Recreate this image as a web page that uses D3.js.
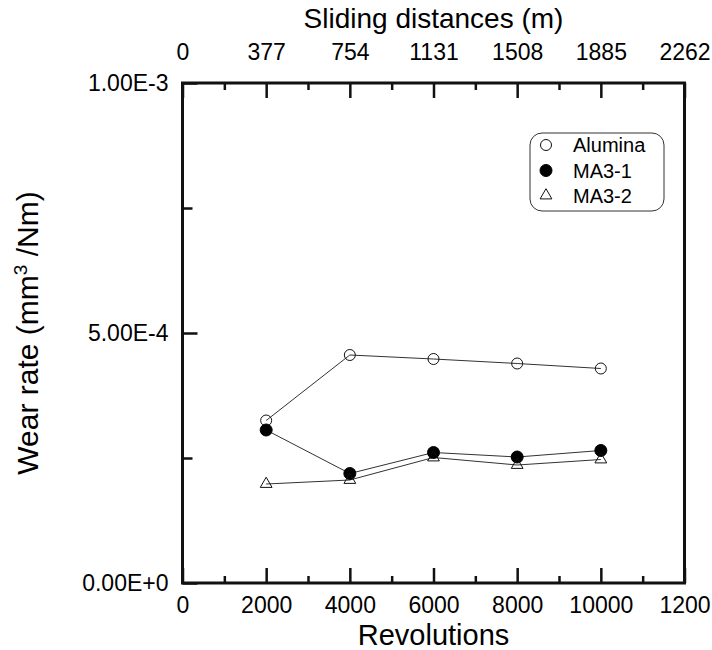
<!DOCTYPE html>
<html>
<head>
<meta charset="utf-8">
<script src="https://cdn.jsdelivr.net/npm/d3@7"></script>
<style>
  html, body { margin: 0; padding: 0; background: #fff; }
  svg { display: block; font-family: "Liberation Sans", Arial, Helvetica, sans-serif; }
</style>
</head>
<body>
<svg id="chart" width="712" height="650"></svg>
<script>
// ---- data ----
const revolutions = [2000, 4000, 6000, 8000, 10000];
const alumina = [3.25e-4, 4.56e-4, 4.48e-4, 4.39e-4, 4.29e-4];
const ma31    = [3.06e-4, 2.19e-4, 2.61e-4, 2.52e-4, 2.65e-4];
const ma32    = [1.98e-4, 2.06e-4, 2.51e-4, 2.36e-4, 2.47e-4];
const seriesNames = ["Alumina", "MA3-1", "MA3-2"];
const bottomTickValues = [0, 2000, 4000, 6000, 8000, 10000, 12000];
const bottomTickLabels = ["0", "2000", "4000", "6000", "8000", "10000", "1200"];
const topTickLabels = ["0", "377", "754", "1131", "1508", "1885", "2262"];
const minorXTicks = [1000, 3000, 5000, 7000, 9000, 11000];
const yTickValues = [0, 5e-4, 1e-3];
const yTickLabels = ["0.00E+0", "5.00E-4", "1.00E-3"];
const minorYTicks = [2.5e-4, 7.5e-4];

// ---- layout ----
const L = 182.5, R = 684.5, T = 83, B = 583;
const svg = d3.select("#chart");
const x = d3.scaleLinear().domain([0, 12000]).range([L, R]);
const y = d3.scaleLinear().domain([0, 1e-3]).range([B, T]);
const ink = "#111";

// series lines
const series = [
  {name: seriesNames[0], vals: alumina, sym: "open-circle"},
  {name: seriesNames[1], vals: ma31, sym: "filled-circle"},
  {name: seriesNames[2], vals: ma32, sym: "triangle"}
];
const line = d3.line().x(d => x(d[0])).y(d => y(d[1]));
series.forEach(s => {
  const pts = revolutions.map((r, i) => [r, s.vals[i]]);
  svg.append("path").attr("d", line(pts)).attr("fill", "none")
    .attr("stroke", "#333").attr("stroke-width", 1);
});

function drawSymbol(g, sym, cx, cy) {
  if (sym === "open-circle") {
    g.append("circle").attr("cx", cx).attr("cy", cy).attr("r", 5.5)
      .attr("fill", "none").attr("stroke", ink).attr("stroke-width", 1);
  } else if (sym === "filled-circle") {
    g.append("circle").attr("cx", cx).attr("cy", cy).attr("r", 6)
      .attr("fill", "#000").attr("stroke", "#000").attr("stroke-width", 1);
  } else {
    g.append("path").attr("d", d3.symbol().type(d3.symbolTriangle).size(60)())
      .attr("transform", `translate(${cx},${cy})`)
      .attr("fill", "none").attr("stroke", ink).attr("stroke-width", 1);
  }
}
const marks = svg.append("g");
series.forEach(s => {
  revolutions.forEach((r, i) => drawSymbol(marks, s.sym, x(r), y(s.vals[i])));
});

// ---- axes ----
const fontTick = 23;
// bottom
const gB = svg.append("g").attr("transform", `translate(0,${B})`)
  .call(d3.axisBottom(x).tickValues(bottomTickValues).tickSize(-15).tickSizeOuter(0)
    .tickFormat((d, i) => bottomTickLabels[i]));
gB.selectAll("text").attr("y", 30).attr("dy", null).attr("font-size", fontTick);
svg.append("g").attr("transform", `translate(0,${B})`)
  .call(d3.axisBottom(x).tickValues(minorXTicks).tickSize(-7).tickSizeOuter(0).tickFormat(""));
// top
const gT = svg.append("g").attr("transform", `translate(0,${T})`)
  .call(d3.axisTop(x).tickValues(bottomTickValues).tickSize(-15).tickSizeOuter(0)
    .tickFormat((d, i) => topTickLabels[i]));
gT.selectAll("text").attr("y", -23).attr("dy", null).attr("font-size", fontTick);
svg.append("g").attr("transform", `translate(0,${T})`)
  .call(d3.axisTop(x).tickValues(minorXTicks).tickSize(-7).tickSizeOuter(0).tickFormat(""));
// left
const gL = svg.append("g").attr("transform", `translate(${L},0)`)
  .call(d3.axisLeft(y).tickValues(yTickValues).tickSize(-15).tickSizeOuter(0)
    .tickFormat((d, i) => yTickLabels[i]));
gL.selectAll("text").attr("x", -14).attr("font-size", fontTick);
svg.append("g").attr("transform", `translate(${L},0)`)
  .call(d3.axisLeft(y).tickValues(minorYTicks).tickSize(-10).tickSizeOuter(0).tickFormat(""));

svg.selectAll(".domain").remove();
svg.selectAll(".tick line").attr("stroke", ink).attr("stroke-width", 2.5);
svg.selectAll(".tick text").attr("fill", "#000").attr("font-family", null);
svg.selectAll("g").attr("font-family", null);

// frame
svg.append("rect").attr("x", L).attr("y", T).attr("width", R - L).attr("height", B - T)
  .attr("fill", "none").attr("stroke", ink).attr("stroke-width", 3);

// ---- titles ----
svg.append("text").attr("x", (L + R) / 2).attr("y", 28).attr("text-anchor", "middle")
  .attr("font-size", 28).text("Sliding distances (m)");
svg.append("text").attr("x", (L + R) / 2).attr("y", 645).attr("text-anchor", "middle")
  .attr("font-size", 29).text("Revolutions");
const yl = svg.append("text").attr("transform", `translate(38,${(T + B) / 2}) rotate(-90)`)
  .attr("text-anchor", "middle").attr("font-size", 30);
yl.append("tspan").text("Wear rate (mm");
yl.append("tspan").attr("font-size", 19).attr("dy", -11).text("3");
yl.append("tspan").attr("dy", 11).text(" /Nm)");

// ---- legend ----
const lg = svg.append("g");
lg.append("rect").attr("x", 530).attr("y", 133).attr("width", 134).attr("height", 78)
  .attr("rx", 12).attr("fill", "#fff").attr("stroke", "#333").attr("stroke-width", 1);
const rowY = [145, 170.5, 195.5];
series.forEach((s, i) => {
  drawSymbol(lg, s.sym, 546, rowY[i]);
  lg.append("text").attr("x", 573).attr("y", rowY[i]).attr("dy", "0.36em")
    .attr("font-size", 20).text(s.name);
});
</script>
</body>
</html>
